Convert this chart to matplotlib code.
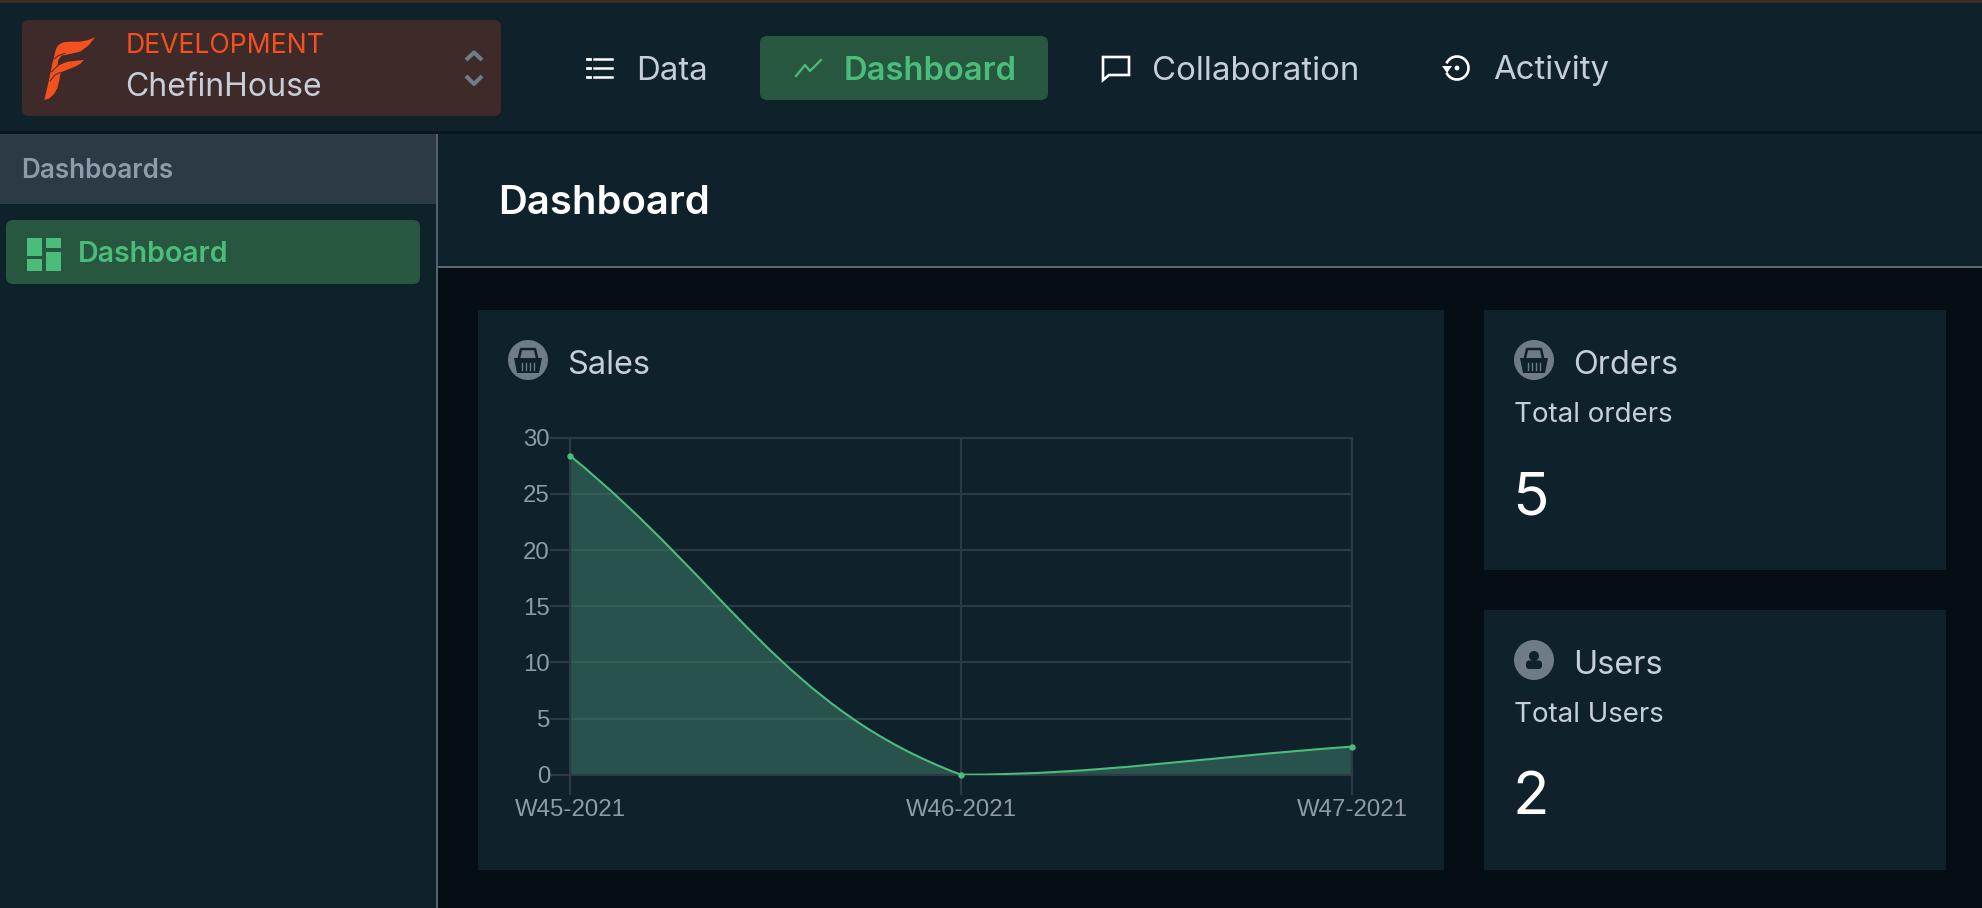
import numpy as np
import matplotlib
matplotlib.use("Agg")
import matplotlib.pyplot as plt
from matplotlib.patches import Rectangle, FancyBboxPatch, Circle, PathPatch, Polygon
from matplotlib.path import Path

# ---- chart data ----
weeks = ["W45-2021", "W46-2021", "W47-2021"]
sales = [28.4, 0.0, 2.5]
y_ticks = [0, 5, 10, 15, 20, 25, 30]
# ---- text ----
nav_items = ["Data", "Dashboard", "Collaboration", "Activity"]
env_label = "DEVELOPMENT"
project_name = "ChefinHouse"
stat_titles = ["Orders", "Users"]
stat_subtitles = ["Total orders", "Total Users"]
stat_values = ["5", "2"]

W, H = 1982, 908
PAGE = "#060e15"; CARD = "#0f212b"; BRAND = "#3e2a29"; BAND = "#2c3a45"
GREEN = "#4abd7b"; CHIP = "#28573f"; ORANGE = "#f4511e"; TXT = "#c6ced9"
MUTED = "#8f9ba8"; GRID = "#2b3a45"; WHITE = "#ffffff"; ICONBG = "#6f7b87"
UI = "Inter"

fig = plt.figure(figsize=(W/100, H/100), dpi=100, facecolor=PAGE)
bg = fig.add_axes([0, 0, 1, 1]); bg.set_xlim(0, W); bg.set_ylim(H, 0); bg.axis("off")

def rect(x0, y0, x1, y1, c, z=1):
    bg.add_patch(Rectangle((x0, y0), x1-x0, y1-y0, fc=c, ec="none", zorder=z))
def rrect(x0, y0, x1, y1, c, r=7, z=2):
    bg.add_patch(FancyBboxPatch((x0+r, y0+r), x1-x0-2*r, y1-y0-2*r, boxstyle=f"round,pad={r},rounding_size={r}",
                                fc=c, ec="none", zorder=z))
def px(s):
    return s*0.72
def txt(x, y, s, size, c, w="normal", fam=UI, **k):
    bg.text(x, y, s, fontsize=px(size), color=c, fontweight=w, family=fam, va="center", ha=k.pop("ha", "left"), zorder=6, **k)

# panels
rect(0, 0, W, 133, CARD); rect(0, 0, W, 2.5, BRAND, 2); rect(0, 131, W, 134, "#0a161e", 2)
rect(0, 134, 436, H, CARD); rect(436, 134, 438, H, "#55626e", 3)
rect(0, 134, 436, 204, BAND, 2)
rect(438, 134, W, 266, CARD); rect(438, 266, W, 268, "#5b6873", 3)
rect(478, 310, 1444, 870, CARD)
rect(1484, 310, 1946, 570, CARD)
rect(1484, 610, 1946, 870, CARD)

# brand block
rrect(22, 20, 501, 116, BRAND)
logo = [(195,37),(175,45),(150,50),(120,50),(100,52),(85,60),(78,72),(72,95),(65,125),(58,160),(50,195),(43,225),
        (58,220),(72,207),(82,190),(88,165),(92,142),(110,135),(135,125),(150,117),(162,105),(140,107),(115,110),
        (95,116),(82,122),(85,105),(95,92),(120,87),(150,80),(175,62)]
bg.add_patch(Polygon([(30+a/3, 25+b/3) for a, b in logo], fc=ORANGE, ec="none", zorder=5))
for seg in ([(72,102),(85,92),(105,85)], [(65,140),(85,120),(100,113)], [(60,168),(75,150),(90,142)]):
    bg.plot([30+a/3 for a, b in seg], [25+b/3 for a, b in seg], color=BRAND, lw=0.7, zorder=6)
txt(126, 46, env_label, 26.5, ORANGE)
txt(125, 88, project_name, 32, TXT)
for ys in ((60, 52.5, 60), (76, 84, 76)):
    bg.plot([466, 474, 482], ys, color="#6f7d8a", lw=2.9, solid_capstyle="butt", zorder=6)

# nav
rrect(760, 36, 1048, 100, CHIP)
txt(636, 71, nav_items[0], 33, TXT)
txt(844, 71, nav_items[1], 32.7, GREEN, w="semibold")
txt(1152, 71, nav_items[2], 33, TXT)
txt(1493, 71, nav_items[3], 33, TXT)
for y in (59, 68, 77):
    bg.plot([587, 590], [y, y], color=WHITE, lw=2.0, zorder=6)
    bg.plot([594, 612], [y, y], color=WHITE, lw=1.8, zorder=6)
bg.plot([796, 805, 810, 821], [76, 65, 71, 60], color=GREEN, lw=1.6, zorder=6)
bubble = Path([(1103,57),(1129,57),(1129,75),(1109,75),(1103,80),(1103,57)], [1,2,2,2,2,79])
bg.add_patch(PathPatch(bubble, fc="none", ec=WHITE, lw=1.9, zorder=6))
th = np.radians(np.linspace(-150, 150, 40))
bg.plot(1457+11.5*np.cos(th), 68+11.5*np.sin(th), color=WHITE, lw=1.9, zorder=6)
bg.add_patch(Polygon([(1442,66),(1452,66),(1447,73)], fc=WHITE, ec="none", zorder=6))
bg.add_patch(Circle((1457,68), 2.4, fc=WHITE, ec="none", zorder=6))

# sidebar
txt(21.5, 170.5, "Dashboards", 26.1, MUTED, w="semibold")
rrect(6, 220, 420, 284, CHIP)
rect(27.3, 237.7, 42.3, 256, GREEN, 5); rect(46, 237.7, 60.7, 248.3, GREEN, 5)
rect(27.3, 259.3, 42.3, 270.7, GREEN, 5); rect(46, 252.3, 60.7, 270.7, GREEN, 5)
txt(78, 254, "Dashboard", 28.6, GREEN, w="semibold")
txt(498, 204, "Dashboard", 40, WHITE, w="semibold")

# basket and person icons
def basket(cx, cy):
    bg.add_patch(Circle((cx, cy), 20, fc=ICONBG, ec="none", zorder=5))
    bg.add_patch(Polygon([(cx-14,cy-2),(cx+14,cy-2),(cx+11,cy+13),(cx-11,cy+13)], fc=CARD, ec="none", zorder=6))
    bg.plot([cx-9,cx-7,cx+7,cx+9], [cy-2,cy-11,cy-11,cy-2], color=CARD, lw=1.8, zorder=6)
    for d in (-6, -2, 2, 6):
        bg.plot([cx+d, cx+d], [cy+3, cy+10], color=ICONBG, lw=1.0, zorder=7)
def person(cx, cy):
    bg.add_patch(Circle((cx, cy), 20, fc=ICONBG, ec="none", zorder=5))
    bg.add_patch(Circle((cx, cy-4), 5, fc=CARD, ec="none", zorder=6))
    rrect(cx-8, cy+0.5, cx+8, cy+9, CARD, r=3.5, z=6)
basket(528, 360); basket(1534, 360); person(1534, 660)

# stat cards
txt(567, 366, "Sales", 32.5, TXT)
for i, y0 in enumerate((365, 665)):
    txt(1573, y0+1, stat_titles[i], 32.5, TXT)
    txt(1514, y0+50, stat_subtitles[i], 27.7, TXT)
    txt(1512.5, y0+134, stat_values[i], 60, WHITE)

# chart: plot area from gridlines (x 570..1352, y 437.7..774.7)
ax = fig.add_axes([570/W, 1-774.7/H, (1352-570)/W, (774.7-437.7)/H], facecolor="none")
xs = np.arange(len(weeks), dtype=float)
ax.set_xlim(xs[0], xs[-1]); ax.set_ylim(y_ticks[0], y_ticks[-1])
ax.set_xticks(xs, weeks); ax.set_yticks(y_ticks)
ax.grid(True, color=GRID, lw=1.6, zorder=0)
ax.set_axisbelow(True)
for s in ax.spines.values():
    s.set_color(GRID); s.set_linewidth(1.6)
ax.tick_params(axis="x", length=14.4, width=1.6, color=GRID, labelcolor=MUTED, pad=3)
ax.tick_params(axis="y", length=14.4, width=1.6, color=GRID, labelcolor=MUTED, pad=0)
for l in ax.get_xticklabels() + ax.get_yticklabels():
    l.set_fontfamily("Liberation Sans"); l.set_fontsize(px(24))

# Cubic segments through the data values, using the chart's screen scale for the tangents
def spline_path(xv, yv, tension=0.4):
    sx = (1352-570)/(xv[-1]-xv[0]); sy = (774.7-437.7)/30.0
    n = len(xv); before = [None]*n; after = [None]*n
    for i in range(n):
        p = (xv[max(i-1, 0)], yv[max(i-1, 0)]); c = (xv[i], yv[i]); q = (xv[min(i+1, n-1)], yv[min(i+1, n-1)])
        d1 = np.hypot((c[0]-p[0])*sx, (c[1]-p[1])*sy); d2 = np.hypot((q[0]-c[0])*sx, (q[1]-c[1])*sy)
        fa = tension*d1/(d1+d2); fb = tension*d2/(d1+d2)
        before[i] = (c[0]-fa*(q[0]-p[0]), max(c[1]-fa*(q[1]-p[1]), 0))
        after[i] = (c[0]+fb*(q[0]-p[0]), max(c[1]+fb*(q[1]-p[1]), 0))
    v = [(xv[0], yv[0])]; k = [Path.MOVETO]
    for i in range(n-1):
        v += [after[i], before[i+1], (xv[i+1], yv[i+1])]; k += [Path.CURVE4]*3
    return v, k

v, k = spline_path(xs, sales)
fv = v + [(xs[-1], 0), (xs[0], 0), v[0]]
fk = k + [Path.LINETO, Path.LINETO, Path.CLOSEPOLY]
ax.add_patch(PathPatch(Path(fv, fk), fc="#3a7b66", alpha=0.56, ec="none", zorder=2))
ax.add_patch(PathPatch(Path(v, k), fc="none", ec=GREEN, lw=1.5, zorder=3))
ax.plot(xs, sales, ls="none", marker="o", ms=3.6, mfc=GREEN, mec=GREEN, clip_on=False, zorder=4)

fig.savefig("out.png", dpi=100, facecolor=PAGE)
